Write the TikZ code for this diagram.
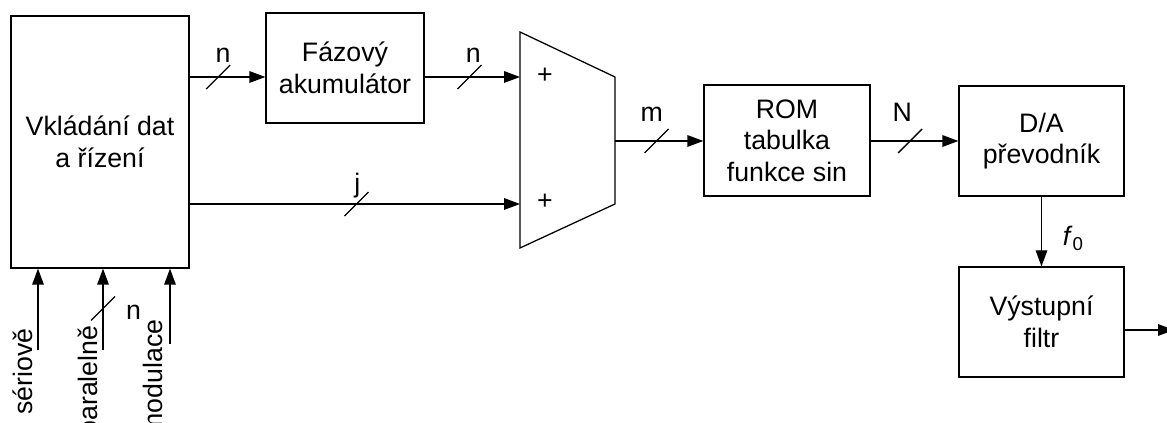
\documentclass[tikz,border=0pt]{standalone}
\usepackage{fontspec}
\setmainfont{Liberation Sans}
\usetikzlibrary{arrows.meta}

\begin{document}
\begin{tikzpicture}[every node/.style={font=\fontsize{19}{22.5}\selectfont},
  >={Triangle[length=0.4cm,width=0.29cm]}, line width=0.9pt,
  block/.style={draw,align=center,inner sep=0pt},
  lbl/.style={inner sep=0pt,anchor=base},
  vlbl/.style={inner sep=0pt,anchor=base east,rotate=90}]
\useasboundingbox (0,0) rectangle (29.175,10.575);

\node[block,minimum width=4.45cm,minimum height=6.3cm] (ctrl) at (2.5,7.025) {Vkládání dat\\a řízení};
\node[block,minimum width=3.95cm,minimum height=2.75cm] (acc) at (8.625,8.875) {Fázový\\akumulátor};
\node[block,minimum width=4.15cm,minimum height=2.775cm] (rom) at (19.675,7.0625) {ROM\\tabulka\\funkce sin};
\node[block,minimum width=4.125cm,minimum height=2.75cm] (da) at (26.0375,7.05) {D/A\\převodník};
\node[block,minimum width=4.125cm,minimum height=2.75cm] (filt) at (26.0375,2.525) {Výstupní\\filtr};

% scitacka
\coordinate (a1) at (13,9.775);
\coordinate (a2) at (13,4.375);
\coordinate (a3) at (15.375,5.475);
\coordinate (a4) at (15.375,8.65);
\draw (a1) -- (a2) -- (a3) -- (a4) -- cycle;
\coordinate (in1) at (13,8.65);
\coordinate (in2) at (13,5.475);
\coordinate (sumout) at (15.375,7.05);
\node (p1) at (13.625,8.675) {+};
\node (p2) at (13.625,5.525) {+};

\draw[->] (ctrl.east |- in1) -- coordinate[pos=0.377] (b1) node[lbl,pos=0.44,yshift=0.35cm] {n} (acc.west |- in1);
\draw[->] (acc.east |- in1) -- coordinate[pos=0.47] (b2) node[lbl,pos=0.51,yshift=0.35cm] {n} (in1);
\draw[->] (ctrl.east |- in2) -- coordinate[pos=0.505] (b3) node[lbl,pos=0.508,yshift=0.275cm] {j} (in2);
\draw[->] (sumout) -- coordinate[pos=0.47] (b4) node[lbl,pos=0.416,yshift=0.475cm] {m} (sumout -| rom.west);
\draw[->] (rom.east |- sumout) -- coordinate[pos=0.45] (b5) node[lbl,pos=0.36,yshift=0.475cm] {N} (sumout -| da.west);
\draw[->] (da.south) -- node[pos=0.6,anchor=west,inner sep=0pt,xshift=0.52cm] {\textit{f}\textsubscript{0}} (filt.north);
\coordinate (out) at (29.35,2.325);
\draw[->] (filt.east |- out) -- (out);

% vstupy
\coordinate (ser) at (0.95,1.825);
\coordinate (par) at (2.575,1.825);
\coordinate (mod) at (4.25,1.975);
\draw[->] (ser) -- (ser |- ctrl.south);
\draw[->] (par) -- coordinate[pos=0.51] (b6) node[pos=0.46,anchor=west,inner sep=0pt,xshift=0.56cm] {n} (par |- ctrl.south);
\draw[->] (mod) -- (mod |- ctrl.south);
\node[vlbl] (serl) at (0.8125,2.375) {sériově};
\node[vlbl] (parl) at (2.425,2.45) {paralelně};
\node[vlbl] (modl) at (4.05,2.6) {modulace};

\foreach \b in {b1,b2,b3,b4,b5,b6}
  \draw (\b) ++(-0.3,-0.3) -- ++(0.6,0.6);

\end{tikzpicture}
\end{document}
